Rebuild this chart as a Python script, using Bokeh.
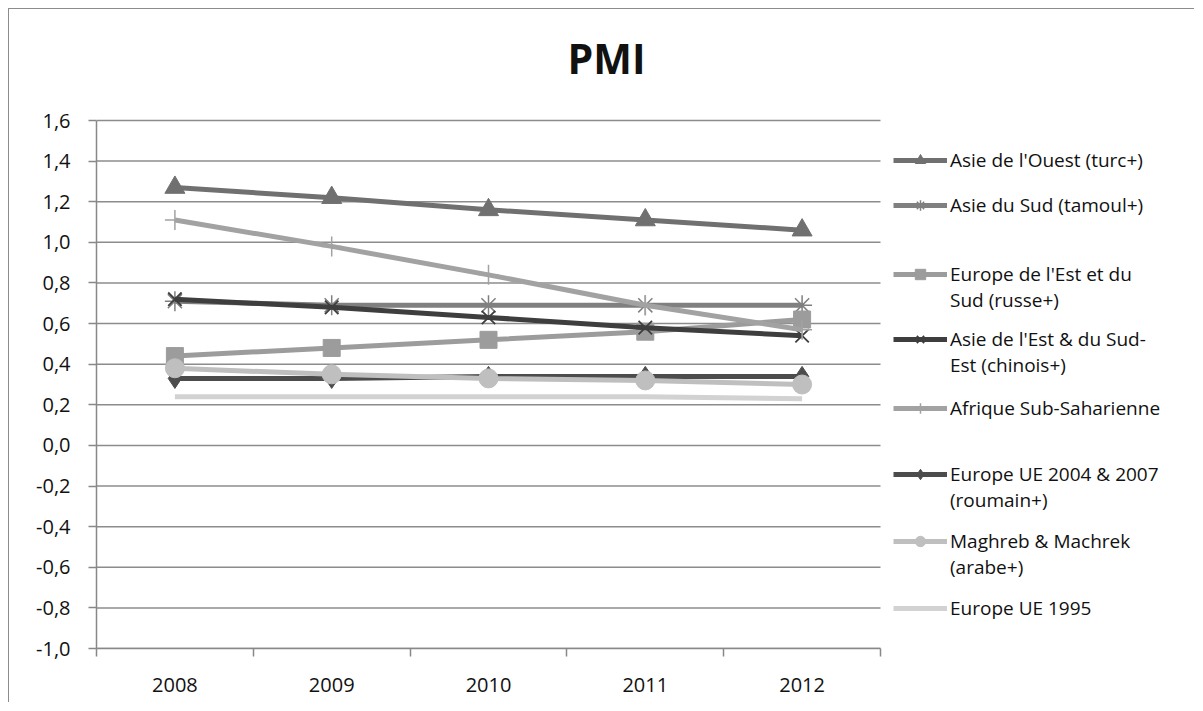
from bokeh.plotting import figure
from bokeh.models import (Range1d, FixedTicker, CustomJSTickFormatter, Legend,
                          LegendItem, Label)
from bokeh.embed import file_html
from bokeh.resources import INLINE

# ---------------- data ----------------
years = [2008, 2009, 2010, 2011, 2012]
asie_ouest = [1.27, 1.22, 1.16, 1.11, 1.06]
asie_sud = [0.71, 0.69, 0.69, 0.69, 0.69]
europe_est = [0.44, 0.48, 0.52, 0.56, 0.62]
asie_est = [0.72, 0.68, 0.63, 0.58, 0.54]
afrique = [1.11, 0.98, 0.84, 0.69, 0.57]
ue_2004 = [0.33, 0.33, 0.34, 0.34, 0.34]
maghreb = [0.38, 0.35, 0.33, 0.32, 0.30]
ue_1995 = [0.24, 0.24, 0.24, 0.24, 0.23]

series_labels = [
    ["Asie de l'Ouest (turc+)"],
    ["Asie du Sud (tamoul+)"],
    ["Europe de l'Est et du", "Sud (russe+)"],
    ["Asie de l'Est & du Sud-", "Est (chinois+)"],
    ["Afrique Sub-Saharienne"],
    ["Europe UE 2004 & 2007", "(roumain+)"],
    ["Maghreb & Machrek", "(arabe+)"],
    ["Europe UE 1995"],
]
series_values = [asie_ouest, asie_sud, europe_est, asie_est, afrique,
                 ue_2004, maghreb, ue_1995]

y_ticks = [-1.0, -0.8, -0.6, -0.4, -0.2, 0.0, 0.2, 0.4, 0.6, 0.8, 1.0, 1.2, 1.4, 1.6]
y_tick_labels = ["-1,0", "-0,8", "-0,6", "-0,4", "-0,2", "0,0", "0,2", "0,4",
                 "0,6", "0,8", "1,0", "1,2", "1,4", "1,6"]
title_text = "PMI"

# ---------------- styles / layout ----------------
colors = ["#707070", "#808080", "#9c9c9c", "#3e3e3e", "#a2a2a2", "#4c4c4c",
          "#bfbfbf", "#d2d2d2"]
markers = ["triangle", "asterisk", "square", "x", "cross", "diamond", "circle", None]
marker_sizes = [20, 20, 17, 19, 20, 20, 19, 0]
marker_line_widths = [1, 1.5, 1, 1.8, 1.5, 1, 1, 1]
legend_line_y = [160, 205, 274, 339, 408, 474, 541, 608]  # page px, layout only

FONT = "Open Sans"
W, H = 1186, 694
ORIGIN = 9                       # page px of canvas origin (margin + border)
BL, BT, BR, BB = 87, 0, 0, 55
frame_left_page = ORIGIN + BL            # 96
frame_bottom_page = ORIGIN + H - BB      # 648
axis_top_page = 120                      # page px of the top of the value axis
axis_px_width = 784                      # pixel width of the category axis
axis_px_height = frame_bottom_page - axis_top_page
frame_w = W - BL - BR
frame_h = H - BT - BB
x_start = years[0] - 0.5
x_axis_end = years[-1] + 0.5
x_per_px = (x_axis_end - x_start) / axis_px_width
x_end = x_start + frame_w * x_per_px
y_start, y_axis_end = y_ticks[0], y_ticks[-1]
y_per_px = (y_axis_end - y_start) / axis_px_height
y_end = y_start + frame_h * y_per_px

p = figure(width=W, height=H, output_backend="svg", toolbar_location=None,
           x_range=Range1d(x_start, x_end),
           y_range=Range1d(y_start, y_end),
           min_border_left=BL, min_border_top=BT, min_border_right=BR,
           min_border_bottom=BB)
p.styles = {"margin-left": "8px", "margin-top": "8px",
            "border-left": "1px solid #8c8c8c", "border-top": "1px solid #8c8c8c"}
p.outline_line_color = None
p.background_fill_color = "white"
p.border_fill_color = "white"

# title (placed inside the extended frame)
title_center_page_x, title_anchor_page_y = 606, 57
p.add_layout(Label(
    x=x_start + (title_center_page_x - frame_left_page) * x_per_px,
    y=y_axis_end + (axis_top_page - title_anchor_page_y) * y_per_px,
    text=title_text, text_align="center", text_baseline="alphabetic",
    text_font=FONT, text_font_size="41px", text_font_style="bold",
    text_color="#111111"))

# grid (drawn only over the category axis extent)
p.xgrid.visible = False
p.ygrid.visible = False
p.segment(x0=[x_start] * len(y_ticks), x1=[x_axis_end] * len(y_ticks),
          y0=y_ticks, y1=y_ticks, line_color="#8c8c8c", line_width=1.5)

# x axis
x_minor = [y - 0.5 for y in years] + [years[-1] + 0.5]
p.xaxis.bounds = (x_start, x_axis_end)
p.xaxis.ticker = FixedTicker(ticks=years, minor_ticks=x_minor)
p.xaxis.major_tick_out = 0
p.xaxis.major_tick_in = 0
p.xaxis.minor_tick_out = 8
p.xaxis.minor_tick_in = 0
p.xaxis.minor_tick_line_color = "#888888"
p.xaxis.minor_tick_line_width = 1.5
p.xaxis.axis_line_color = "#888888"
p.xaxis.axis_line_width = 1.5
p.xaxis.major_label_standoff = 21

# y axis
p.yaxis.bounds = (y_start, y_axis_end)
p.yaxis.ticker = FixedTicker(ticks=y_ticks, minor_ticks=[])
p.yaxis.formatter = CustomJSTickFormatter(
    args=dict(yt=y_ticks, yl=y_tick_labels),
    code="""
    let b = 0;
    for (let i = 0; i < yt.length; i++) {
        if (Math.abs(yt[i] - tick) < Math.abs(yt[b] - tick)) b = i;
    }
    return yl[b];
    """)
p.yaxis.major_tick_out = 8
p.yaxis.major_tick_in = 0
p.yaxis.major_tick_line_color = "#888888"
p.yaxis.major_tick_line_width = 1.5
p.yaxis.axis_line_color = "#888888"
p.yaxis.axis_line_width = 1.5
p.yaxis.major_label_standoff = 18

for ax in (p.xaxis, p.yaxis):
    ax.major_label_text_font = FONT
    ax.major_label_text_font_size = "20px"
    ax.major_label_text_color = "#111111"

# series
legend_renderers = []
for vals, c, m, s, mlw in zip(series_values, colors, markers, marker_sizes,
                               marker_line_widths):
    lr = p.line(years, vals, line_color=c, line_width=5)
    rs = [lr]
    if m is not None:
        sr = p.scatter(years, vals, marker=m, size=s, fill_color=c,
                       line_color=c, line_width=mlw)
        rs.append(sr)
    legend_renderers.append(rs)

dummy = p.line(x=[], y=[], line_alpha=0)

# legends (one per series, to reproduce the uneven spacing)
line_h = 26
for labels, rs, cy in zip(series_labels, legend_renderers, legend_line_y):
    items = [LegendItem(label=labels[0], renderers=rs)]
    for extra in labels[1:]:
        items.append(LegendItem(label=extra, renderers=[dummy]))
    bottom_page = cy + line_h / 2 + line_h * (len(labels) - 1)
    vx = 893 - frame_left_page
    vy = frame_bottom_page - bottom_page
    leg = Legend(items=items, location=(vx, vy), orientation="vertical",
                 glyph_width=54, glyph_height=line_h, label_height=line_h,
                 label_standoff=3, spacing=0, padding=0, margin=0,
                 border_line_alpha=0, background_fill_alpha=0,
                 label_text_font=FONT, label_text_font_size="19px",
                 label_text_color="#111111")
    p.add_layout(leg)

open("out.html", "w").write(file_html(p, INLINE))
